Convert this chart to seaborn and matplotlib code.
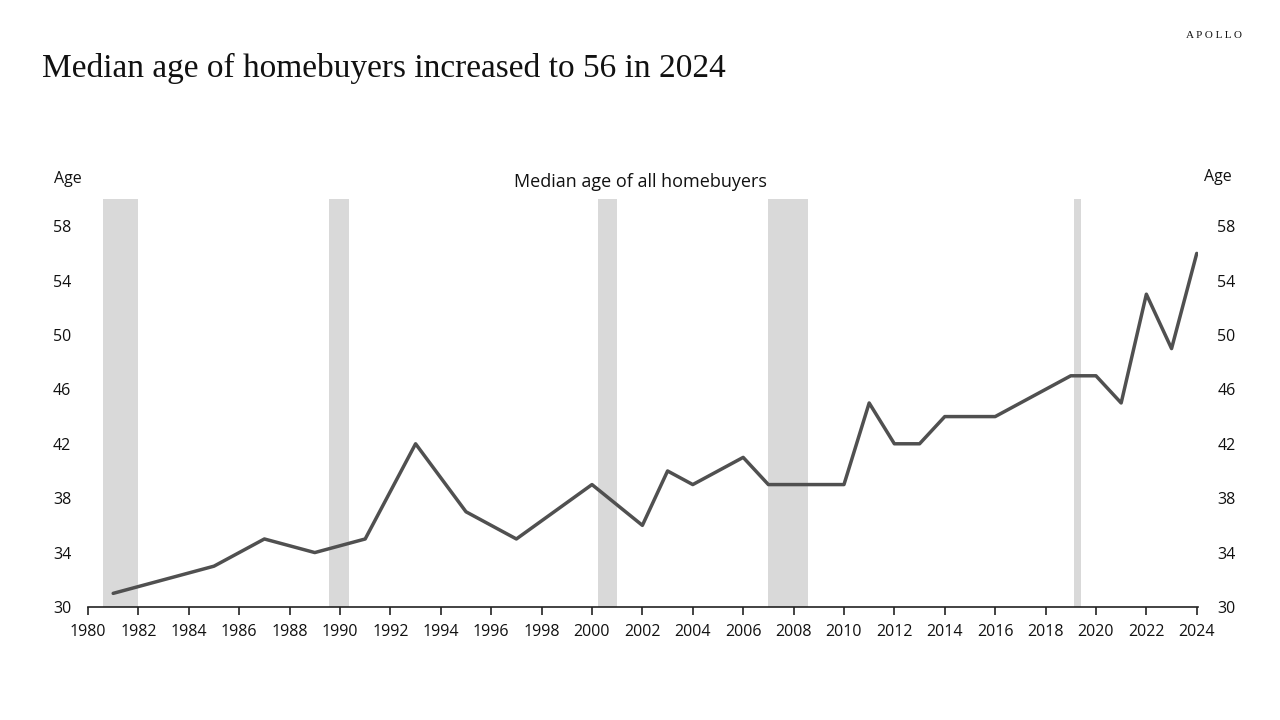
import pandas as pd
import matplotlib.pyplot as plt
import seaborn as sns

# median age of all homebuyers
years = [1981, 1985, 1987, 1989, 1991, 1993, 1995, 1997, 2000, 2002, 2003, 2004,
         2006, 2007, 2010, 2011, 2012, 2013, 2014, 2016, 2019, 2020, 2021, 2022,
         2023, 2024]
ages = [31, 33, 35, 34, 35, 42, 37, 35, 39, 36, 40, 39,
        41, 39, 39, 45, 42, 42, 44, 44, 47, 47, 45, 53,
        49, 56]

# shaded recession bands (as drawn on the chart's axis)
rec_start = [1980.58, 1989.58, 2000.25, 2006.99, 2019.13]
rec_end = [1982.0, 1990.34, 2001.0, 2008.58, 2019.40]

x_ticks = list(range(1980, 2025, 2))
y_ticks = [30, 34, 38, 42, 46, 50, 54, 58]

df = pd.DataFrame({'year': years, 'age': ages})

sns.set_theme(style='white')
plt.rcParams['font.family'] = ['Open Sans', 'DejaVu Sans']

fig = plt.figure(figsize=(12.8, 7.2), dpi=100)
ax = fig.add_axes([0.06875, 0.157, 0.8672, 0.5666])

for s, e in zip(rec_start, rec_end):
    ax.axvspan(s, e, color='#d9d9d9', lw=0, zorder=0)

sns.lineplot(data=df, x='year', y='age', ax=ax, color='#505050', linewidth=2.5, zorder=3)

ax.set_xlim(1980, 2024.05)
ax.set_ylim(30, 60)
ax.set_xticks(x_ticks)
ax.set_xticklabels([str(t) for t in x_ticks], fontsize=11.5, color='#111111')
ax.set_yticks(y_ticks)
ax.set_yticklabels([str(t) for t in y_ticks], fontsize=11.5, color='#111111')
ax.set_xlabel('')
ax.set_ylabel('')

for side in ['left', 'right', 'top']:
    ax.spines[side].set_visible(False)
ax.spines['bottom'].set_color('#222222')
ax.spines['bottom'].set_linewidth(1.2)
ax.tick_params(axis='x', bottom=True, length=6, width=1.2, color='#222222', pad=6, direction='out')
ax.tick_params(axis='y', left=False, length=0, pad=12)

ax2 = ax.twinx()
ax2.set_ylim(30, 60)
ax2.set_yticks(y_ticks)
ax2.set_yticklabels([str(t) for t in y_ticks], fontsize=11.5, color='#111111')
ax2.tick_params(axis='y', right=False, length=0, pad=14)
for side in ['left', 'right', 'top', 'bottom']:
    ax2.spines[side].set_visible(False)

fig.text(0.0422, 0.752, 'Age', fontsize=11.5, color='#111111', va='center')
fig.text(0.941, 0.754, 'Age', fontsize=11.5, color='#111111', va='center')
fig.text(0.5, 0.747, 'Median age of all homebuyers', fontsize=13, color='#111111',
         ha='center', va='center')

fig.text(0.033, 0.905, 'Median age of homebuyers increased to 56 in 2024',
         fontsize=24, family='Liberation Serif', color='#111111', va='center')
fig.text(0.97, 0.951, 'A P O L L O', fontsize=8, family='Liberation Serif',
         color='#111111', ha='right', va='center')

fig.savefig('out.png', dpi=100, facecolor='white')
